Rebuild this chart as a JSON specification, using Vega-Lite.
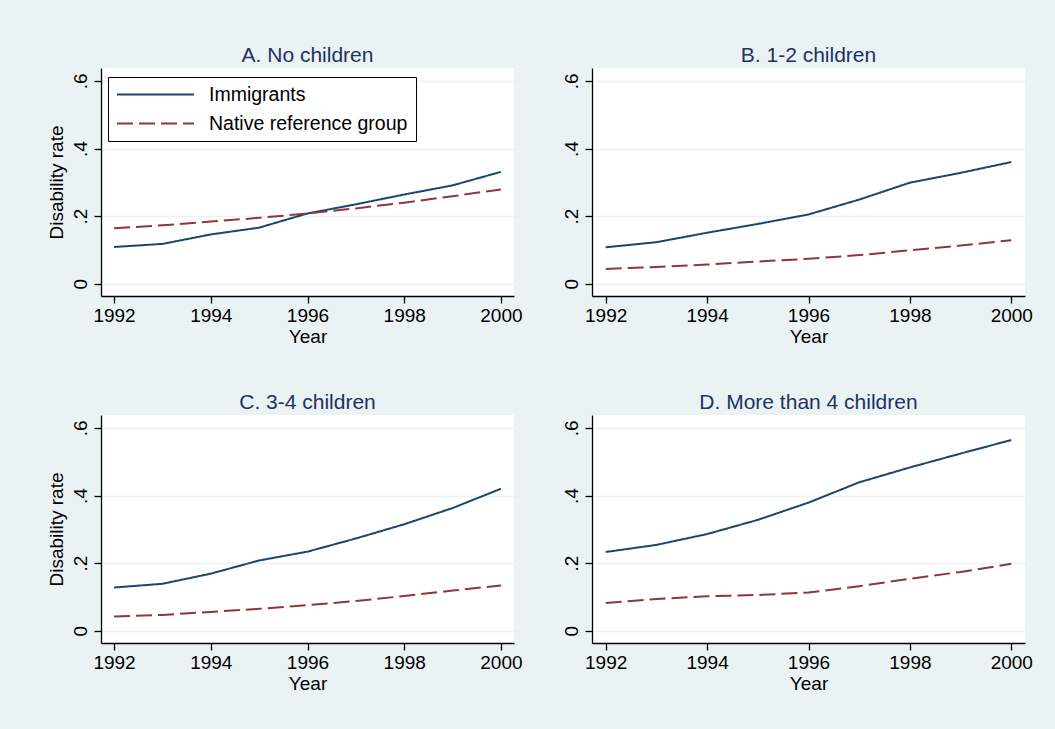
{
  "$schema": "https://vega.github.io/schema/vega-lite/v6.json",
  "background": "#EAF2F3",
  "padding": {"left": 47, "top": 45, "right": 22, "bottom": 37},
  "datasets": {
    "d": [
      {"p": "A", "year": 1992, "group": "Immigrants", "rate": 0.109},
      {"p": "A", "year": 1993, "group": "Immigrants", "rate": 0.118},
      {"p": "A", "year": 1994, "group": "Immigrants", "rate": 0.146},
      {"p": "A", "year": 1995, "group": "Immigrants", "rate": 0.166},
      {"p": "A", "year": 1996, "group": "Immigrants", "rate": 0.208},
      {"p": "A", "year": 1997, "group": "Immigrants", "rate": 0.235},
      {"p": "A", "year": 1998, "group": "Immigrants", "rate": 0.264},
      {"p": "A", "year": 1999, "group": "Immigrants", "rate": 0.291},
      {"p": "A", "year": 2000, "group": "Immigrants", "rate": 0.331},
      {"p": "A", "year": 1992, "group": "Native reference group", "rate": 0.164},
      {"p": "A", "year": 1993, "group": "Native reference group", "rate": 0.173},
      {"p": "A", "year": 1994, "group": "Native reference group", "rate": 0.184},
      {"p": "A", "year": 1995, "group": "Native reference group", "rate": 0.195},
      {"p": "A", "year": 1996, "group": "Native reference group", "rate": 0.208},
      {"p": "A", "year": 1997, "group": "Native reference group", "rate": 0.223},
      {"p": "A", "year": 1998, "group": "Native reference group", "rate": 0.240},
      {"p": "A", "year": 1999, "group": "Native reference group", "rate": 0.259},
      {"p": "A", "year": 2000, "group": "Native reference group", "rate": 0.279},
      {"p": "B", "year": 1992, "group": "Immigrants", "rate": 0.108},
      {"p": "B", "year": 1993, "group": "Immigrants", "rate": 0.123},
      {"p": "B", "year": 1994, "group": "Immigrants", "rate": 0.151},
      {"p": "B", "year": 1995, "group": "Immigrants", "rate": 0.177},
      {"p": "B", "year": 1996, "group": "Immigrants", "rate": 0.205},
      {"p": "B", "year": 1997, "group": "Immigrants", "rate": 0.249},
      {"p": "B", "year": 1998, "group": "Immigrants", "rate": 0.299},
      {"p": "B", "year": 1999, "group": "Immigrants", "rate": 0.328},
      {"p": "B", "year": 2000, "group": "Immigrants", "rate": 0.360},
      {"p": "B", "year": 1992, "group": "Native reference group", "rate": 0.044},
      {"p": "B", "year": 1993, "group": "Native reference group", "rate": 0.050},
      {"p": "B", "year": 1994, "group": "Native reference group", "rate": 0.057},
      {"p": "B", "year": 1995, "group": "Native reference group", "rate": 0.066},
      {"p": "B", "year": 1996, "group": "Native reference group", "rate": 0.074},
      {"p": "B", "year": 1997, "group": "Native reference group", "rate": 0.085},
      {"p": "B", "year": 1998, "group": "Native reference group", "rate": 0.099},
      {"p": "B", "year": 1999, "group": "Native reference group", "rate": 0.113},
      {"p": "B", "year": 2000, "group": "Native reference group", "rate": 0.129},
      {"p": "C", "year": 1992, "group": "Immigrants", "rate": 0.128},
      {"p": "C", "year": 1993, "group": "Immigrants", "rate": 0.139},
      {"p": "C", "year": 1994, "group": "Immigrants", "rate": 0.169},
      {"p": "C", "year": 1995, "group": "Immigrants", "rate": 0.208},
      {"p": "C", "year": 1996, "group": "Immigrants", "rate": 0.234},
      {"p": "C", "year": 1997, "group": "Immigrants", "rate": 0.273},
      {"p": "C", "year": 1998, "group": "Immigrants", "rate": 0.315},
      {"p": "C", "year": 1999, "group": "Immigrants", "rate": 0.363},
      {"p": "C", "year": 2000, "group": "Immigrants", "rate": 0.420},
      {"p": "C", "year": 1992, "group": "Native reference group", "rate": 0.042},
      {"p": "C", "year": 1993, "group": "Native reference group", "rate": 0.047},
      {"p": "C", "year": 1994, "group": "Native reference group", "rate": 0.056},
      {"p": "C", "year": 1995, "group": "Native reference group", "rate": 0.065},
      {"p": "C", "year": 1996, "group": "Native reference group", "rate": 0.076},
      {"p": "C", "year": 1997, "group": "Native reference group", "rate": 0.088},
      {"p": "C", "year": 1998, "group": "Native reference group", "rate": 0.103},
      {"p": "C", "year": 1999, "group": "Native reference group", "rate": 0.119},
      {"p": "C", "year": 2000, "group": "Native reference group", "rate": 0.134},
      {"p": "D", "year": 1992, "group": "Immigrants", "rate": 0.233},
      {"p": "D", "year": 1993, "group": "Immigrants", "rate": 0.254},
      {"p": "D", "year": 1994, "group": "Immigrants", "rate": 0.286},
      {"p": "D", "year": 1995, "group": "Immigrants", "rate": 0.328},
      {"p": "D", "year": 1996, "group": "Immigrants", "rate": 0.379},
      {"p": "D", "year": 1997, "group": "Immigrants", "rate": 0.439},
      {"p": "D", "year": 1998, "group": "Immigrants", "rate": 0.483},
      {"p": "D", "year": 1999, "group": "Immigrants", "rate": 0.524},
      {"p": "D", "year": 2000, "group": "Immigrants", "rate": 0.564},
      {"p": "D", "year": 1992, "group": "Native reference group", "rate": 0.082},
      {"p": "D", "year": 1993, "group": "Native reference group", "rate": 0.094},
      {"p": "D", "year": 1994, "group": "Native reference group", "rate": 0.102},
      {"p": "D", "year": 1995, "group": "Native reference group", "rate": 0.106},
      {"p": "D", "year": 1996, "group": "Native reference group", "rate": 0.113},
      {"p": "D", "year": 1997, "group": "Native reference group", "rate": 0.132},
      {"p": "D", "year": 1998, "group": "Native reference group", "rate": 0.154},
      {"p": "D", "year": 1999, "group": "Native reference group", "rate": 0.174},
      {"p": "D", "year": 2000, "group": "Native reference group", "rate": 0.198}
    ]
  },
  "columns": 2,
  "spacing": {"row": 119, "column": 78},
  "bounds": "flush",
  "resolve": {"legend": {"color": "independent", "strokeDash": "independent"}},
  "concat": [
    {
      "title": "A. No children",
      "width": 413, "height": 228,
      "data": {"name": "d"},
      "transform": [{"filter": "datum.p == 'A'"}],
      "mark": {"type": "line", "strokeWidth": 2},
      "encoding": {
        "x": {"field": "year", "type": "quantitative", "title": "Year",
              "scale": {"domain": [1991.73, 2000.27], "nice": false, "zero": false},
              "axis": {"values": [1992, 1994, 1996, 1998, 2000], "format": "d"}},
        "y": {"field": "rate", "type": "quantitative", "title": "Disability rate",
              "scale": {"domain": [-0.036, 0.638], "nice": false, "zero": false},
              "axis": {"values": [0, 0.2, 0.4, 0.6], "labelExpr": "datum.value == 0 ? '0' : '.' + round(datum.value * 10)"}},
        "color": {"field": "group", "type": "nominal",
                  "scale": {"domain": ["Immigrants", "Native reference group"], "range": ["#1A476F", "#90353B"]},
                  "legend": {"title": null, "orient": "none", "legendX": 7, "legendY": 9,
                             "strokeColor": "#000000", "fillColor": "#FFFFFF", "padding": 8,
                             "symbolType": "stroke", "symbolSize": 5929, "symbolStrokeWidth": 2,
                             "clipHeight": 19, "rowPadding": 9, "labelOffset": 14, "symbolOffset": 0,
                             "labelFont": "Liberation Sans", "labelFontSize": 19.5, "labelColor": "#000000", "labelLimit": 400}},
        "strokeDash": {"field": "group", "type": "nominal",
                       "scale": {"domain": ["Immigrants", "Native reference group"], "range": [[1, 0], [16, 6]]},
                       "legend": {"title": null, "orient": "none", "legendX": 7, "legendY": 9,
                             "strokeColor": "#000000", "fillColor": "#FFFFFF", "padding": 8,
                             "symbolType": "stroke", "symbolSize": 5929, "symbolStrokeWidth": 2,
                             "clipHeight": 19, "rowPadding": 9, "labelOffset": 14, "symbolOffset": 0,
                             "labelFont": "Liberation Sans", "labelFontSize": 19.5, "labelColor": "#000000", "labelLimit": 400}}
      }
    },
    {
      "title": "B. 1-2 children",
      "width": 433, "height": 228,
      "data": {"name": "d"},
      "transform": [{"filter": "datum.p == 'B'"}],
      "mark": {"type": "line", "strokeWidth": 2},
      "encoding": {
        "x": {"field": "year", "type": "quantitative", "title": "Year",
              "scale": {"domain": [1991.73, 2000.27], "nice": false, "zero": false},
              "axis": {"values": [1992, 1994, 1996, 1998, 2000], "format": "d"}},
        "y": {"field": "rate", "type": "quantitative", "title": null,
              "scale": {"domain": [-0.036, 0.638], "nice": false, "zero": false},
              "axis": {"values": [0, 0.2, 0.4, 0.6], "labelExpr": "datum.value == 0 ? '0' : '.' + round(datum.value * 10)"}},
        "color": {"field": "group", "type": "nominal",
                  "scale": {"domain": ["Immigrants", "Native reference group"], "range": ["#1A476F", "#90353B"]},
                  "legend": null},
        "strokeDash": {"field": "group", "type": "nominal",
                       "scale": {"domain": ["Immigrants", "Native reference group"], "range": [[1, 0], [16, 6]]},
                       "legend": null}
      }
    },
    {
      "title": "C. 3-4 children",
      "width": 413, "height": 228,
      "data": {"name": "d"},
      "transform": [{"filter": "datum.p == 'C'"}],
      "mark": {"type": "line", "strokeWidth": 2},
      "encoding": {
        "x": {"field": "year", "type": "quantitative", "title": "Year",
              "scale": {"domain": [1991.73, 2000.27], "nice": false, "zero": false},
              "axis": {"values": [1992, 1994, 1996, 1998, 2000], "format": "d"}},
        "y": {"field": "rate", "type": "quantitative", "title": "Disability rate",
              "scale": {"domain": [-0.036, 0.638], "nice": false, "zero": false},
              "axis": {"values": [0, 0.2, 0.4, 0.6], "labelExpr": "datum.value == 0 ? '0' : '.' + round(datum.value * 10)"}},
        "color": {"field": "group", "type": "nominal",
                  "scale": {"domain": ["Immigrants", "Native reference group"], "range": ["#1A476F", "#90353B"]},
                  "legend": null},
        "strokeDash": {"field": "group", "type": "nominal",
                       "scale": {"domain": ["Immigrants", "Native reference group"], "range": [[1, 0], [16, 6]]},
                       "legend": null}
      }
    },
    {
      "title": "D. More than 4 children",
      "width": 433, "height": 228,
      "data": {"name": "d"},
      "transform": [{"filter": "datum.p == 'D'"}],
      "mark": {"type": "line", "strokeWidth": 2},
      "encoding": {
        "x": {"field": "year", "type": "quantitative", "title": "Year",
              "scale": {"domain": [1991.73, 2000.27], "nice": false, "zero": false},
              "axis": {"values": [1992, 1994, 1996, 1998, 2000], "format": "d"}},
        "y": {"field": "rate", "type": "quantitative", "title": null,
              "scale": {"domain": [-0.036, 0.638], "nice": false, "zero": false},
              "axis": {"values": [0, 0.2, 0.4, 0.6], "labelExpr": "datum.value == 0 ? '0' : '.' + round(datum.value * 10)"}},
        "color": {"field": "group", "type": "nominal",
                  "scale": {"domain": ["Immigrants", "Native reference group"], "range": ["#1A476F", "#90353B"]},
                  "legend": null},
        "strokeDash": {"field": "group", "type": "nominal",
                       "scale": {"domain": ["Immigrants", "Native reference group"], "range": [[1, 0], [16, 6]]},
                       "legend": null}
      }
    }
  ],
  "config": {
    "font": "Liberation Sans",
    "view": {"fill": "#FFFFFF", "stroke": null},
    "axis": {
      "domainColor": "#000000", "domainWidth": 1.3,
      "tickColor": "#000000", "tickWidth": 1.3, "tickSize": 7,
      "labelFont": "Liberation Sans", "labelFontSize": 19, "labelColor": "#000000",
      "titleFont": "Liberation Sans", "titleFontSize": 19, "titleFontWeight": "normal", "titleColor": "#000000",
      "gridColor": "#EAF2F3", "gridWidth": 1.5
    },
    "axisX": {"grid": false, "labelPadding": 3, "titlePadding": 2, "labelFlush": false, "labelOverlap": false},
    "axisY": {"grid": true, "labelAngle": 270, "labelPadding": 4, "titlePadding": 5, "labelOverlap": false},
    "title": {"font": "Liberation Sans", "fontSize": 21, "fontWeight": "normal", "color": "#1E3362", "offset": 2, "anchor": "middle"}
  }
}
